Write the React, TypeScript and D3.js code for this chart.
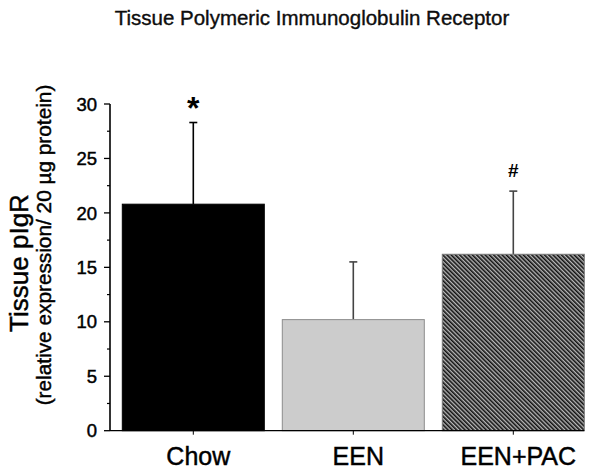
import React from "react";
import * as d3 from "d3";

const groups = ["Chow", "EEN", "EEN+PAC"];
const means = [20.8, 10.2, 16.2];
const errors = [7.5, 5.3, 5.8];
const marks = ["*", "", "#"];
const yTicks = [0, 5, 10, 15, 20, 25, 30];

const W = 602;
const H = 475;
const margin = { left: 110, top: 104, bottom: 44 };

export default function App() {
  const y = d3.scaleLinear().domain([0, 30]).range([H - margin.bottom - 0.3, margin.top]);
  const x = d3
    .scaleBand()
    .domain(groups)
    .range([113.3, 593.3])
    .paddingInner(0.1125)
    .paddingOuter(0.05625);
  const minor = d3.range(2.5, 30, 5);
  const font = "Arial, 'Liberation Sans', sans-serif";
  const y0 = y(0);

  const fills = ["#000", "#cccccc", "url(#hatch)"];
  const strokes = ["#000", "#8c8c8c", "#777"];
  const errColor = ["#000", "#444", "#444"];
  // slight stroke to thicken the text like the scanned figure
  const heavy = { stroke: "#000", strokeWidth: 0.45 };

  return (
    <svg
      width={W}
      height={H}
      style={{ position: "absolute", left: 0, top: 0, background: "#fff" }}
      fontFamily={font}
    >
      <defs>
        <pattern id="hatch" width="3" height="3" patternUnits="userSpaceOnUse" patternTransform="rotate(-45)">
          <rect width="3" height="3" fill="#b8b8b8" />
          <rect width="1.6" height="3" fill="#111" />
        </pattern>
      </defs>

      <text x={312} y={25} textAnchor="middle" fontSize={20.5} fill="#111" {...heavy} strokeWidth={0.35}>
        Tissue Polymeric Immunoglobulin Receptor
      </text>

      {/* y axis titles */}
      <text transform={`translate(28,263) rotate(-90)`} textAnchor="middle" fontSize={26} fill="#000" {...heavy}>
        Tissue pIgR
      </text>
      <text transform={`translate(51,245) rotate(-90)`} textAnchor="middle" fontSize={20.8} fill="#000" {...heavy}>
        (relative expression/ 20 µg protein)
      </text>

      {/* bars */}
      {groups.map((g, i) => (
        <g key={g}>
          <line
            x1={x(g)! + x.bandwidth() / 2}
            x2={x(g)! + x.bandwidth() / 2}
            y1={y(means[i])}
            y2={y(means[i] + errors[i])}
            stroke={errColor[i]}
            strokeWidth={1.6}
          />
          <line
            x1={x(g)! + x.bandwidth() / 2 - 4}
            x2={x(g)! + x.bandwidth() / 2 + 4}
            y1={y(means[i] + errors[i])}
            y2={y(means[i] + errors[i])}
            stroke={errColor[i]}
            strokeWidth={1.6}
          />
          <rect
            x={x(g)}
            y={y(means[i])}
            width={x.bandwidth()}
            height={y0 - y(means[i])}
            fill={fills[i]}
            stroke={strokes[i]}
            strokeWidth={1}
          />
          {marks[i] && (
            <text
              x={x(g)! + x.bandwidth() / 2}
              y={y(means[i] + errors[i]) - (marks[i] === "*" ? 4 : 14)}
              textAnchor="middle"
              fontSize={marks[i] === "*" ? 32 : 19}
              fontWeight="bold"
              fill="#000"
            >
              {marks[i]}
            </text>
          )}
          <line
            x1={x(g)! + x.bandwidth() / 2}
            x2={x(g)! + x.bandwidth() / 2}
            y1={y0}
            y2={y0 + 4}
            stroke="#000"
          />
          <text x={x(g)! + x.bandwidth() / 2 + 5} y={465} textAnchor="middle" fontSize={25} fill="#000" {...heavy}>
            {g}
          </text>
        </g>
      ))}

      {/* axes */}
      <line x1={110} x2={x("EEN+PAC")! + x.bandwidth()} y1={y0} y2={y0} stroke="#000" strokeWidth={1.3} />
      <line x1={110} x2={110} y1={y(30)} y2={y0} stroke="#000" strokeWidth={1.6} />
      {yTicks.map((t) => (
        <g key={t}>
          <line x1={104} x2={110} y1={y(t)} y2={y(t)} stroke="#000" strokeWidth={1.3} />
          <text x={97} y={y(t)} dy="0.36em" textAnchor="end" fontSize={18.5} fill="#000" {...heavy}>
            {t}
          </text>
        </g>
      ))}
      {minor.map((t) => (
        <line key={t} x1={107} x2={110} y1={y(t)} y2={y(t)} stroke="#000" strokeWidth={1.2} />
      ))}
    </svg>
  );
}
